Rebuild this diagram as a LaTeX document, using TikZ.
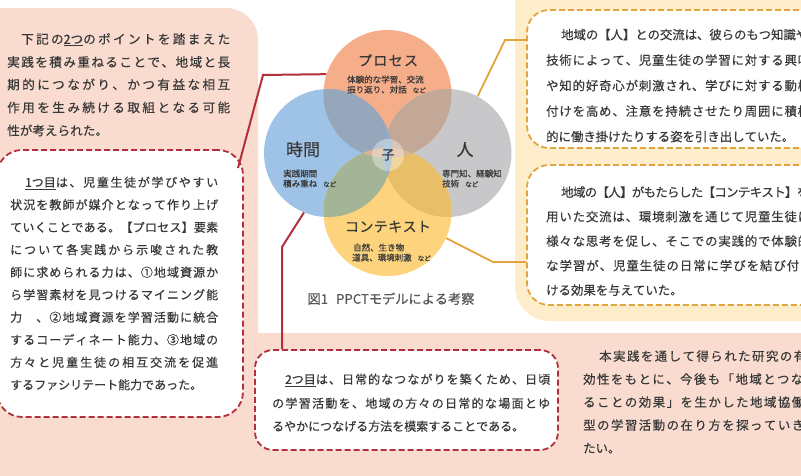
\documentclass[tikz,border=0pt]{standalone}
\usepackage{fontspec}
\setmainfont{Noto Sans CJK JP}[FakeBold=0.35]
\XeTeXinterchartokenstate=1
\ifdefined\newXeTeXintercharclass \newXeTeXintercharclass\jcls \else \chardef\jcls=7 \fi
\newcount\jcnt
\jcnt="2460 \loop\XeTeXcharclass\jcnt=\jcls \advance\jcnt by 1 \ifnum\jcnt<"2474 \repeat
\jcnt="3000 \loop\XeTeXcharclass\jcnt=\jcls \advance\jcnt by 1 \ifnum\jcnt<"A000 \repeat
\jcnt="FF00 \loop\XeTeXcharclass\jcnt=\jcls \advance\jcnt by 1 \ifnum\jcnt<"FFF0 \repeat
\XeTeXinterchartoks\jcls\jcls={\hskip0pt plus 1fil minus 1pt\relax}
\newcommand\JL[2]{\makebox[#1pt][s]{#2}}
\definecolor{pinkbg}{HTML}{F9DCCF}
\definecolor{yelbg}{HTML}{FEEDCB}
\definecolor{redc}{HTML}{B3303A}
\definecolor{orc}{HTML}{E2A43C}
\definecolor{txt}{HTML}{383838}
\definecolor{cO}{HTML}{F6AD8A}
\definecolor{cB}{HTML}{9EC3E6}
\definecolor{cG}{HTML}{C8C8CA}
\definecolor{cY}{HTML}{FDD47D}
\definecolor{cOB}{HTML}{96A6BB}
\definecolor{cOG}{HTML}{C3A797}
\definecolor{cBY}{HTML}{A4B497}
\definecolor{cGY}{HTML}{E8BF68}
\definecolor{cBG}{HTML}{8FAECD}
\definecolor{cOY}{HTML}{D8B595}
\tikzset{
  redbox/.style={draw=redc, line width=1.8pt, dash pattern=on 6pt off 3pt, fill=white, rounded corners=25pt, inner sep=0pt},
  orbox/.style={draw=orc, line width=1.8pt, dash pattern=on 6pt off 3pt, fill=white, rounded corners=22pt, inner sep=0pt},
  redline/.style={draw=redc, line width=2pt},
  orline/.style={draw=orc, line width=1.8pt},
  vc/.style={circle, minimum size=128pt, inner sep=0pt},
  tl/.style={anchor=west, inner sep=0pt, text height=0.88em, text depth=0.12em, text=txt},
  ta/.style={tl, font=\fontsize{12.6}{14}\selectfont},
  tb/.style={tl, font=\fontsize{12}{14}\selectfont},
  td/.style={tl, font=\fontsize{12.4}{14}\selectfont},
  vs/.style={tl, font=\fontsize{8.5}{10}\selectfont},
  vl/.style={anchor=center, inner sep=0pt, text height=0.88em, text depth=0.12em, text=txt},
}
\begin{document}
\begin{tikzpicture}[x=1pt,y=-1pt]
\useasboundingbox (0,0) rectangle (801,476);
\clip (0,0) rectangle (801,476);
% backgrounds
\fill[pinkbg, rounded corners=32pt] (-40,8) rectangle (258,520);
\fill[pinkbg] (0,333) rectangle (801,476);
\fill[yelbg, rounded corners=35pt] (515,-40) rectangle (840,321);
% dashed boxes
\node[redbox, minimum width=246pt, minimum height=267pt] (lbox) at (120,283.5) {};
\node[redbox, rounded corners=18pt, minimum width=303pt, minimum height=100pt] (bbox) at (406.5,400) {};
\node[orbox, minimum width=303pt, minimum height=138pt] (rbox1) at (678.5,79) {};
\node[orbox, minimum width=303pt, minimum height=140pt] (rbox2) at (678.5,235) {};
% Venn circles
\node[vc, fill=cO] (pO) at (387.5,94) {};
\node[vc, fill=cB] (pB) at (328,153) {};
\node[vc, fill=cG] (pG) at (447.5,153) {};
\node[vc, fill=cY] (pY) at (387.5,212) {};
\begin{scope}\clip (pO.center) circle[radius=64pt]; \fill[cOB] (pB.center) circle[radius=64pt];\end{scope}
\begin{scope}\clip (pO.center) circle[radius=64pt]; \fill[cOG] (pG.center) circle[radius=64pt];\end{scope}
\begin{scope}\clip (pY.center) circle[radius=64pt]; \fill[cBY] (pB.center) circle[radius=64pt];\end{scope}
\begin{scope}\clip (pY.center) circle[radius=64pt]; \fill[cGY] (pG.center) circle[radius=64pt];\end{scope}
\begin{scope}\clip (pO.center) circle[radius=64pt]; \fill[cOY] (pY.center) circle[radius=64pt];\end{scope}
\begin{scope}\clip (pB.center) circle[radius=64pt]; \fill[cBG] (pG.center) circle[radius=64pt];\end{scope}
\node[circle, minimum size=32pt, inner sep=0pt, fill=white, fill opacity=0.35, text opacity=1, text=txt, font=\fontsize{13}{14}\selectfont] (ko) at (388,155) {子};
% Venn labels
\node[vl, font=\fontsize{14}{16}\selectfont] (lp) at (388,62) {\JL{60}{プロセス}};
\node[vs] (lp1) at (347,79) {体験的な学習、交流};
\node[vs] (lp2) at (347,89) {振り返り、対話\hspace{6pt}{\fontsize{6.5}{8}\selectfont など}};
\node[vl, font=\fontsize{17}{19}\selectfont] (lt) at (303,152) {\JL{34}{時間}};
\node[vs] (lt1) at (283,173) {実践期間};
\node[vs] (lt2) at (283,183) {積み重ね\hspace{6pt}{\fontsize{6.5}{8}\selectfont など}};
\node[vl, font=\fontsize{17}{19}\selectfont] (lh) at (465,152) {人};
\node[vs] (lh1) at (442,173) {専門知、経験知};
\node[vs] (lh2) at (442,183) {技術\hspace{6pt}{\fontsize{6.5}{8}\selectfont など}};
\node[vl, font=\fontsize{14}{16}\selectfont] (lc) at (388,228) {\JL{86}{コンテキスト}};
\node[vs] (lc1) at (353,247) {自然、生き物};
\node[vs] (lc2) at (352,257) {道具、環境刺激\hspace{6pt}{\fontsize{6.5}{8}\selectfont など}};
\node[vl, text=txt!85, font=\fontsize{13.2}{15}\selectfont] (cap) at (391,300) {図1\hspace{8pt}PPCTモデルによる考察};
% connectors
\coordinate (r1a) at (238,168);
\coordinate (r1b) at (263,75);
\draw[redline] (r1a) -- (r1b) -- (pO.162.6);
\coordinate (r2b) at (282,247);
\draw[redline] (pB.248) -- (r2b) -- (r2b |- bbox.north);
\coordinate (o1b) at (505,40);
\draw[orline] (pG.62) -- (o1b) -- (o1b -| rbox1.west);
\coordinate (o2b) at (493,262);
\draw[orline] (pY.-24.4) -- (o2b) -- (o2b -| rbox2.west);
% block A
\node[ta] (a1) at (21,40) {\JL{209}{下記の\underline{2つ}のポイントを踏まえた}};
\node[ta] (a2) at (7,63) {\JL{223}{実践を積み重ねることで、地域と長}};
\node[ta] (a3) at (7,85.5) {\JL{223}{期的につながり、かつ有益な相互}};
\node[ta] (a4) at (7,108.5) {\JL{223}{作用を生み続ける取組となる可能}};
\node[ta] (a5) at (7,131.5) {性が考えられた。};
% block B
\node[tb] (b1) at (25,183) {\JL{193}{\underline{1つ目}は、児童生徒が学びやすい}};
\node[tb] (b2) at (10,205.5) {\JL{208}{状況を教師が媒介となって作り上げ}};
\node[tb] (b3) at (10,228) {\JL{208}{ていくことである。【プロセス】要素}};
\node[tb] (b4) at (10,250.5) {\JL{208}{について各実践から示唆された教}};
\node[tb] (b5) at (10,273) {\JL{208}{師に求められる力は、①地域資源か}};
\node[tb] (b6) at (10,295.5) {\JL{208}{ら学習素材を見つけるマイニング能}};
\node[tb] (b7) at (10,318) {\JL{208}{力　、②地域資源を学習活動に統合}};
\node[tb] (b8) at (10,340.5) {\JL{208}{するコーディネート能力、③地域の}};
\node[tb] (b9) at (10,363) {\JL{208}{方々と児童生徒の相互交流を促進}};
\node[tb] (b10) at (10,385.5) {するファシリテート能力であった。};
% block C
\node[tb] (c1) at (285,380) {\JL{265}{\underline{2つ目}は、日常的なつながりを築くため、日頃}};
\node[tb] (c2) at (272,404) {\JL{278}{の学習活動を、地域の方々の日常的な場面とゆ}};
\node[tb] (c3) at (272,427) {るやかにつなげる方法を模索することである。};
% block D
\node[td] (d1) at (561,35.5) {\JL{247}{地域の【人】との交流は、彼らのもつ知識や}};
\node[td] (d2) at (546,61) {\JL{264}{技術によって、児童生徒の学習に対する興味}};
\node[td] (d3) at (546,86.5) {\JL{264}{や知的好奇心が刺激され、学びに対する動機}};
\node[td] (d4) at (546,112) {\JL{264}{付けを高め、注意を持続させたり周囲に積極}};
\node[td] (d5) at (546,137.5) {的に働き掛けたりする姿を引き出していた。};
% block E
\node[td] (e1) at (561,193) {\JL{248}{地域の【人】がもたらした【コンテキスト】を}};
\node[td] (e2) at (546,217.5) {\JL{264}{用いた交流は、環境刺激を通じて児童生徒に}};
\node[td] (e3) at (546,242) {\JL{264}{様々な思考を促し、そこでの実践的で体験的}};
\node[td] (e4) at (546,266.5) {\JL{253}{な学習が、児童生徒の日常に学びを結び付}};
\node[td] (e5) at (546,291) {ける効果を与えていた。};
% block F
\node[td] (f1) at (599,357) {\JL{207}{本実践を通して得られた研究の有}};
\node[td] (f2) at (583,380) {\JL{234}{効性をもとに、今後も「地域とつなが}};
\node[td] (f3) at (583,403) {\JL{221}{ることの効果」を生かした地域協働}};
\node[td] (f4) at (583,426) {\JL{221}{型の学習活動の在り方を探っていき}};
\node[td] (f5) at (583,449) {たい。};
\end{tikzpicture}
\end{document}
